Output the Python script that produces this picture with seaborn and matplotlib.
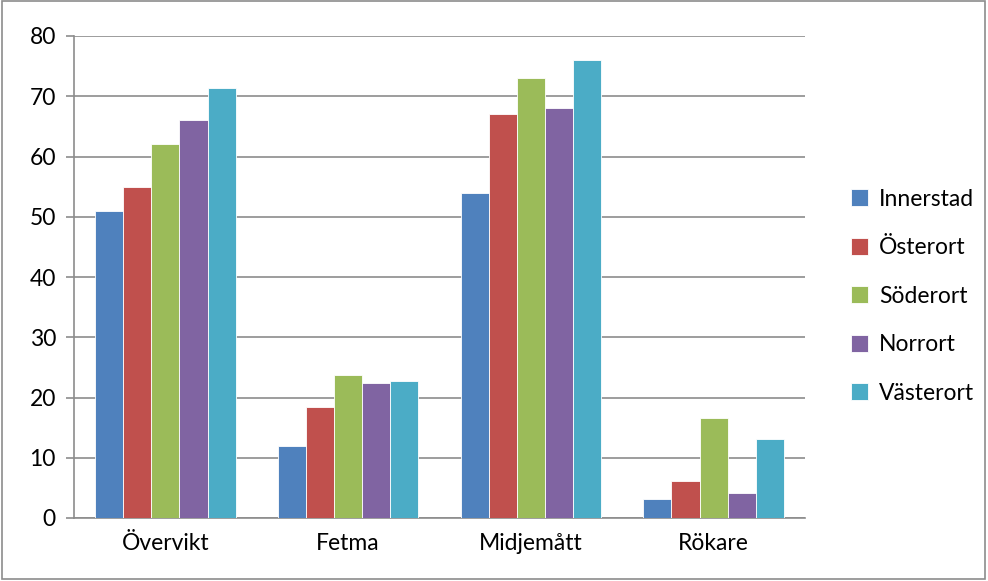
import numpy as np
import pandas as pd
import seaborn as sns
import matplotlib.pyplot as plt
from matplotlib.patches import Rectangle

categories = ["Övervikt", "Fetma", "Midjemått", "Rökare"]
regions = ["Innerstad", "Österort", "Söderort", "Norrort", "Västerort"]
innerstad = [51, 11.9, 54, 3.2]
osterort = [55, 18.4, 67, 6.1]
soderort = [62, 23.8, 73, 16.6]
norrort = [66, 22.4, 68, 4.1]
vasterort = [71.4, 22.8, 76, 13.1]
colors = ["#4F81BD", "#C0504D", "#9BBB59", "#8064A2", "#4BACC6"]

rows = []
for reg, vals in zip(regions, [innerstad, osterort, soderort, norrort, vasterort]):
    for cat, v in zip(categories, vals):
        rows.append({"kategori": cat, "region": reg, "värde": v})
df = pd.DataFrame(rows)

sns.set_style("white")
plt.rcParams["font.family"] = ["Lato", "DejaVu Sans"]

fig = plt.figure(figsize=(9.88, 5.81), dpi=100)
ax = fig.add_axes([74 / 988, 1 - 518 / 581, (805 - 74) / 988, (518 - 36) / 581])

sns.barplot(data=df, x="kategori", y="värde", hue="region", hue_order=regions,
            palette=colors, width=0.77, saturation=1, ax=ax, zorder=3,
            edgecolor="white", linewidth=0.6)

ax.set_ylim(0, 80)
ax.set_xlim(-0.5, 3.5)
ax.set_yticks(range(0, 81, 10))
ax.yaxis.grid(True, color="#8c8c8c", linewidth=1.2, zorder=0)
ax.set_axisbelow(True)
ax.set_xlabel("")
ax.set_ylabel("")

# tick marks between categories, like the original
ax.set_xticks([0, 1, 2, 3])
ax.set_xticklabels(categories)
ax.set_xticks([-0.5, 0.5, 1.5, 2.5, 3.5], minor=True)
ax.tick_params(axis="x", which="major", length=0, labelsize=16.5, pad=11, labelcolor="black")
ax.tick_params(axis="x", which="minor", length=6, color="#8c8c8c", width=1.2, direction="out")
ax.tick_params(axis="y", length=6, color="#8c8c8c", width=1.2, direction="out", labelsize=16.5,
               pad=7, labelcolor="black")
ax.tick_params(bottom=True, left=True)

for s in ["top", "right"]:
    ax.spines[s].set_visible(False)
for s in ["left", "bottom"]:
    ax.spines[s].set_color("#8c8c8c")
    ax.spines[s].set_linewidth(1.2)

ax.legend(loc="center left", bbox_to_anchor=(1.035, 0.46), frameon=False, fontsize=16.5,
          handlelength=0.75, handleheight=0.75, handletextpad=0.45, labelspacing=1.2,
          labelcolor="black")

fig.patches.append(Rectangle((0.002, 0.004), 0.995, 0.994, transform=fig.transFigure,
                             fill=False, edgecolor="#8c8c8c", linewidth=1.2))

fig.savefig("out.png", dpi=100)
